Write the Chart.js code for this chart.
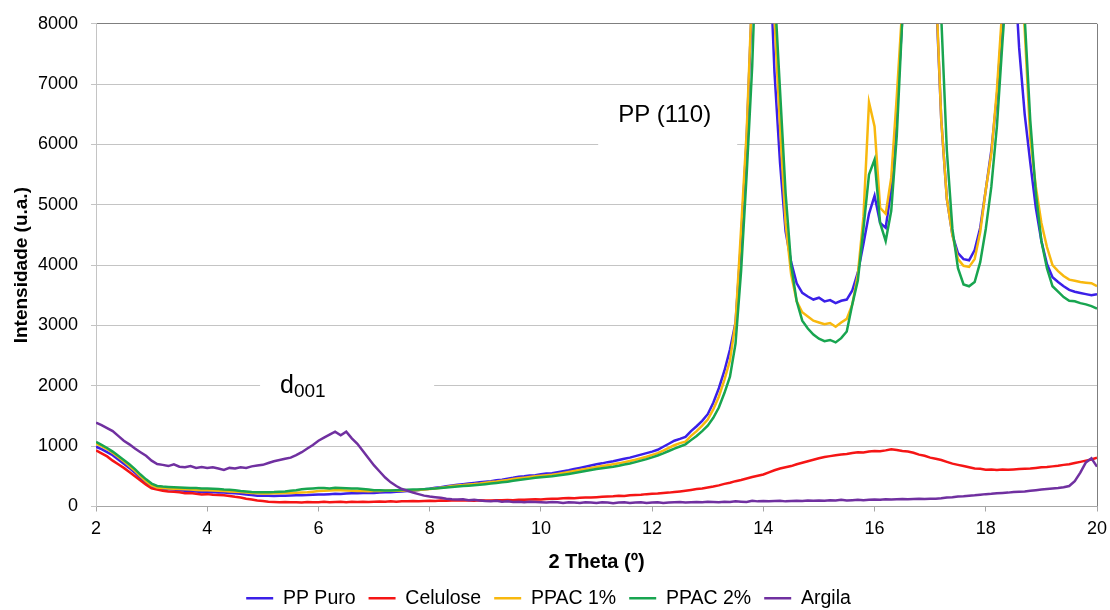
<!DOCTYPE html>
<html>
<head>
<meta charset="utf-8">
<script src="https://cdn.jsdelivr.net/npm/chart.js@4"></script>
<style>
    body { margin: 0; background: #fff; }
    .box { width: 1110px; height: 610px; }
</style>
</head>
<body>
<div class="box"><canvas id="xrd-chart"></canvas></div>
<script>
'use strict';

// 2 theta, every 0.1 degree
var theta = [
    2.0, 2.1, 2.2, 2.3, 2.4, 2.5, 2.6, 2.7, 2.8, 2.9,
    3.0, 3.1, 3.2, 3.3, 3.4, 3.5, 3.6, 3.7, 3.8, 3.9,
    4.0, 4.1, 4.2, 4.3, 4.4, 4.5, 4.6, 4.7, 4.8, 4.9,
    5.0, 5.1, 5.2, 5.3, 5.4, 5.5, 5.6, 5.7, 5.8, 5.9,
    6.0, 6.1, 6.2, 6.3, 6.4, 6.5, 6.6, 6.7, 6.8, 6.9,
    7.0, 7.1, 7.2, 7.3, 7.4, 7.5, 7.6, 7.7, 7.8, 7.9,
    8.0, 8.1, 8.2, 8.3, 8.4, 8.5, 8.6, 8.7, 8.8, 8.9,
    9.0, 9.1, 9.2, 9.3, 9.4, 9.5, 9.6, 9.7, 9.8, 9.9,
    10.0, 10.1, 10.2, 10.3, 10.4, 10.5, 10.6, 10.7, 10.8, 10.9,
    11.0, 11.1, 11.2, 11.3, 11.4, 11.5, 11.6, 11.7, 11.8, 11.9,
    12.0, 12.1, 12.2, 12.3, 12.4, 12.5, 12.6, 12.7, 12.8, 12.9,
    13.0, 13.1, 13.2, 13.3, 13.4, 13.5, 13.6, 13.7, 13.8, 13.9,
    14.0, 14.1, 14.2, 14.3, 14.4, 14.5, 14.6, 14.7, 14.8, 14.9,
    15.0, 15.1, 15.2, 15.3, 15.4, 15.5, 15.6, 15.7, 15.8, 15.9,
    16.0, 16.1, 16.2, 16.3, 16.4, 16.5, 16.6, 16.7, 16.8, 16.9,
    17.0, 17.1, 17.2, 17.3, 17.4, 17.5, 17.6, 17.7, 17.8, 17.9,
    18.0, 18.1, 18.2, 18.3, 18.4, 18.5, 18.6, 18.7, 18.8, 18.9,
    19.0, 19.1, 19.2, 19.3, 19.4, 19.5, 19.6, 19.7, 19.8, 19.9,
    20.0
];

var ppPuro = [
    990, 950, 900, 850, 780, 710, 640, 560, 470, 390,
    330, 300, 290, 285, 280, 270, 262, 255, 250, 240,
    235, 240, 232, 230, 225, 218, 210, 200, 190, 180,
    178, 180, 175, 180, 178, 182, 185, 188, 190, 195,
    200, 198, 205, 210, 208, 215, 218, 220, 225, 222,
    225, 230, 235, 238, 245, 250, 255, 262, 275, 285,
    295, 310, 320, 335, 350, 360, 370, 380, 390, 400,
    410, 420, 435, 445, 460, 475, 495, 500, 515, 520,
    535, 545, 550, 570, 585, 600, 620, 640, 660, 680,
    700, 715, 735, 750, 770, 790, 810, 835, 860, 885,
    910, 940, 990, 1040, 1090, 1120, 1155, 1250, 1330, 1420,
    1530, 1720, 1960, 2250, 2600, 3050, 4400, 6100, 8500, 11500,
    13000, 9500, 7200, 5700, 4560, 4050, 3700, 3540, 3480, 3430,
    3460, 3400, 3420, 3370, 3410, 3430, 3580, 3880, 4350, 4850,
    5150, 4700, 4620, 5250, 6550, 8100, 10000, 11500, 12000, 11800,
    10500, 8600, 6400, 5100, 4500, 4200, 4100, 4080, 4250, 4620,
    5250, 5900, 6800, 8100, 9300, 9200, 7600, 6500, 5700, 4950,
    4400, 4020, 3800, 3720, 3650, 3590, 3560, 3540, 3520, 3500,
    3520
];

var celulose = [
    930, 880, 830, 760, 700, 640, 570, 500, 430, 360,
    300, 280, 260, 250, 245, 235, 220, 225, 210, 200,
    205, 195, 190, 185, 175, 160, 150, 130, 115, 100,
    90, 80, 75, 70, 75, 70, 72, 68, 75, 70,
    72, 78, 70, 75, 80, 72, 78, 75, 80, 76,
    78, 82, 80, 85, 80, 88, 85, 90, 85, 92,
    95, 90, 100, 95, 100, 98, 105, 100, 95, 105,
    100, 98, 105, 102, 108, 105, 112, 110, 115, 120,
    118, 125, 130, 128, 135, 140, 138, 145, 150, 148,
    155, 160, 165, 170, 178, 175, 185, 190, 195, 205,
    210, 215, 225, 230, 240, 250, 262, 275, 290, 300,
    315, 330, 350, 375, 395, 420, 440, 465, 490, 510,
    530, 565, 600, 630, 650, 670, 700, 725, 750, 775,
    800, 820, 835, 850, 860, 870, 885, 900, 895, 910,
    920, 915, 930, 950, 935, 920, 910, 890, 860, 840,
    810, 790, 770, 740, 710, 690, 670, 650, 630, 625,
    610, 615, 605, 612, 608, 615, 620, 625, 630, 640,
    650, 655, 665, 675, 690, 700, 720, 740, 760, 780,
    810
];

var ppac1 = [
    1040, 1000, 950, 890, 820, 750, 670, 590, 500, 420,
    350, 315, 305, 300, 295, 290, 285, 280, 275, 270,
    268, 265, 262, 255, 250, 245, 240, 232, 225, 218,
    215, 215, 218, 220, 222, 225, 228, 232, 235, 245,
    255, 262, 265, 270, 268, 265, 262, 258, 255, 252,
    255, 258, 262, 265, 260, 262, 265, 268, 272, 280,
    288, 300, 312, 325, 338, 348, 355, 365, 372, 382,
    395, 405, 415, 428, 440, 455, 468, 478, 490, 500,
    510, 518, 525, 540, 555, 572, 588, 605, 623, 640,
    655, 670, 685, 700, 715, 735, 755, 775, 800, 825,
    855, 885, 925, 970, 1015, 1050, 1075, 1170, 1250, 1340,
    1440, 1610, 1820, 2100, 2420, 3050, 4600, 6200, 8600, 11800,
    14000, 11000, 8100, 6300, 4700, 3850, 3400, 3220, 3150, 3080,
    3050, 3020, 3040, 2980, 3050, 3110, 3350, 3850, 4800, 6700,
    6300, 4950, 4850, 5450, 6800, 8300, 10000, 11500, 12000, 11600,
    10200, 8700, 6400, 5100, 4500, 4100, 3990, 3970, 4100, 4550,
    5250, 5850, 6900, 8300, 9800, 10000, 9500, 7900, 6100, 5300,
    4700, 4300, 4000, 3900, 3820, 3760, 3740, 3720, 3710, 3700,
    3650
];

var ppac2 = [
    1070, 1020, 970, 910, 840, 770, 700, 620, 530, 450,
    380, 340, 330, 325, 320, 315, 312, 308, 305, 300,
    298, 295, 290, 282, 278, 270, 258, 250, 242, 238,
    235, 238, 240, 245, 250, 262, 270, 285, 295, 300,
    305, 308, 300, 310, 305, 302, 298, 300, 290, 280,
    270, 268, 265, 265, 270, 275, 278, 280, 282, 288,
    295, 300, 308, 315, 322, 330, 340, 345, 352, 360,
    370, 380, 390, 400, 412, 425, 440, 450, 462, 475,
    485, 492, 500, 512, 525, 540, 555, 572, 590, 605,
    620, 635, 648, 660, 675, 695, 712, 735, 760, 785,
    815, 845, 880, 920, 960, 995, 1030, 1100, 1170, 1250,
    1340, 1470, 1640, 1880, 2150, 2700, 3900, 5500, 7300, 10000,
    13500, 12000, 8600, 6900, 5200, 4000, 3400, 3080, 2950, 2850,
    2780, 2740, 2760, 2720, 2790, 2900, 3350, 3750, 4600, 5500,
    5750, 4700, 4400, 4900, 6150, 8100, 10000, 11200, 11800, 11700,
    10800, 10000, 8100, 5900, 4600, 3950, 3680, 3650, 3720, 4050,
    4600, 5300, 6300, 7700, 9000, 10000, 10000, 8100, 6400, 5200,
    4400, 3950, 3650, 3560, 3470, 3410, 3400, 3370, 3350, 3320,
    3280
];

var argila = [
    1390, 1350, 1300, 1250, 1170, 1090, 1030, 960, 900, 840,
    760, 705, 690, 670, 700, 660, 650, 670, 640, 655,
    640, 650, 630, 605, 640, 630, 650, 640, 665, 680,
    690, 720, 750, 770, 790, 810, 850, 900, 960, 1020,
    1090, 1140, 1190, 1240, 1180, 1240, 1130, 1040, 920, 800,
    680, 580, 480, 400, 340, 290, 260, 230, 205, 180,
    165, 155, 145, 130, 120, 115, 120, 105, 110, 100,
    90, 85, 95, 80, 85, 75, 80, 70, 80, 75,
    70, 65, 75, 70, 60, 70, 65, 60, 70, 65,
    60, 70, 65, 55, 65, 70, 60, 65, 70, 60,
    65, 70, 60, 65, 70, 75, 65, 70, 75, 70,
    80, 75, 70, 80, 75, 85, 80, 75, 95, 85,
    90, 85, 90, 95, 85, 90, 95, 90, 100, 95,
    100, 95, 105, 100, 110, 100, 105, 110, 105, 110,
    115, 110, 120, 115, 120, 125, 120, 125, 130, 125,
    130, 130, 135, 150, 155, 165, 170, 180, 185, 195,
    205, 210, 220, 225, 230, 240, 245, 250, 260, 270,
    280, 290, 300, 305, 320, 340, 420, 560, 730, 800,
    660
];

var seriesNames = ['PP Puro', 'Celulose', 'PPAC 1%', 'PPAC 2%', 'Argila'];
var seriesColors = ['#3b20e8', '#f51515', '#f8b80e', '#18a550', '#7030a0'];
var seriesData = [ppPuro, celulose, ppac1, ppac2, argila];

var FONT = "'Liberation Sans', Arial, Helvetica, sans-serif";
Chart.defaults.font.family = FONT;
Chart.defaults.color = '#000';

// labels of the peaks, with a white patch behind each one
var peakLabels = {
    id: 'peakLabels',
    beforeDatasetsDraw: function (chart) {
        var ctx = chart.ctx,
            x = chart.scales.x,
            y = chart.scales.y;

        ctx.save();
        ctx.fillStyle = '#fff';
        ctx.fillRect(x.getPixelForValue(11.03), y.getPixelForValue(6750),
            x.getPixelForValue(13.53) - x.getPixelForValue(11.03),
            y.getPixelForValue(5930) - y.getPixelForValue(6750));
        ctx.fillRect(x.getPixelForValue(4.95), y.getPixelForValue(2330),
            x.getPixelForValue(8.08) - x.getPixelForValue(4.95),
            y.getPixelForValue(1720) - y.getPixelForValue(2330));

        ctx.fillStyle = '#000';
        ctx.textBaseline = 'alphabetic';
        ctx.textAlign = 'left';
        ctx.font = '24px ' + FONT;
        ctx.fillText('PP (110)', x.getPixelForValue(11.39), y.getPixelForValue(6380));

        var dx = x.getPixelForValue(5.31),
            dy = y.getPixelForValue(1884);
        ctx.font = '25px ' + FONT;
        ctx.fillText('d', dx, dy);
        var w = ctx.measureText('d').width;
        ctx.font = '19px ' + FONT;
        ctx.fillText('001', dx + w, dy + 4);
        ctx.restore();
    }
};

new Chart(document.getElementById('xrd-chart'), {
    type: 'line',
    data: {
        datasets: seriesNames.map(function (name, i) {
            return {
                label: name,
                data: theta.map(function (t, k) { return { x: t, y: seriesData[i][k] }; }),
                borderColor: seriesColors[i],
                backgroundColor: seriesColors[i],
                borderWidth: 2.5,
                pointRadius: 0,
                tension: 0,
                fill: false,
                order: seriesNames.length - i // last series on top, like the original
            };
        })
    },
    options: {
        responsive: true,
        maintainAspectRatio: false,
        animation: false,
        layout: {
            padding: { left: 0, right: 13, top: 22, bottom: -8 }
        },
        plugins: {
            legend: {
                position: 'bottom',
                labels: {
                    usePointStyle: true,
                    pointStyle: 'line',
                    pointStyleWidth: 27,
                    padding: 13,
                    font: { size: 19.5 },
                    color: '#000',
                    sort: function (a, b) { return a.datasetIndex - b.datasetIndex; }
                }
            },
            tooltip: { enabled: false }
        },
        scales: {
            x: {
                type: 'linear',
                min: 2,
                max: 20,
                ticks: { stepSize: 2, padding: 7, font: { size: 18 }, color: '#000' },
                grid: {
                    color: function (c) {
                        return c.tick && c.tick.value === 20 ? '#7f7f7f' : 'rgba(0,0,0,0)';
                    },
                    tickLength: 5,
                    tickColor: '#a6a6a6'
                },
                border: { color: '#a6a6a6' },
                title: {
                    display: true,
                    text: '2 Theta (º)',
                    font: { size: 20, weight: 'bold' },
                    padding: { top: 0, bottom: 1 }
                },
                afterFit: function (scale) {
                    scale.height = 69;
                    scale.paddingRight = 0; // the "20" may hang over the right margin
                }
            },
            y: {
                min: 0,
                max: 8000,
                ticks: {
                    stepSize: 1000,
                    padding: 13,
                    font: { size: 18 },
                    color: '#000',
                    callback: function (v) { return String(v); }
                },
                grid: {
                    color: function (c) {
                        return c.tick && c.tick.value === 8000 ? '#7f7f7f' : '#c4c4c4';
                    },
                    tickLength: 5,
                    tickColor: '#c4c4c4'
                },
                border: { color: '#c4c4c4' },
                title: {
                    display: true,
                    text: 'Intensidade (u.a.)',
                    font: { size: 19, weight: 'bold' },
                    padding: { top: 10, bottom: 0 }
                },
                afterFit: function (scale) { scale.width = 96; }
            }
        }
    },
    plugins: [peakLabels]
});
</script>
</body>
</html>
